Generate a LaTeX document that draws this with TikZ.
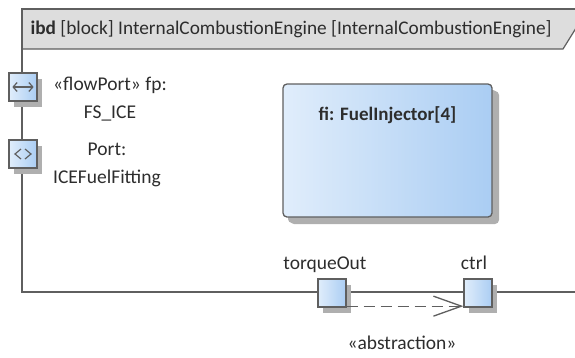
\documentclass[tikz,border=0pt]{standalone}
\usepackage{fontspec}
\setmainfont{Carlito}
\usetikzlibrary{arrows.meta,positioning,shadows,calc}
\definecolor{ibdline} {RGB}{ 95, 95, 95}
\definecolor{ibdhead} {RGB}{221,221,221}
\definecolor{ibdtext} {RGB}{ 45, 45, 45}
\definecolor{prtleft} {RGB}{224,237,251}
\definecolor{prtright}{RGB}{170,205,243}
\definecolor{ibdshade}{RGB}{175,175,175}
\tikzset{
  port/.style={draw=ibdline,line width=1.3pt,left color=prtleft,right color=prtright,
    minimum size=28pt,inner sep=0pt,
    drop shadow={shadow xshift=5pt,shadow yshift=-6pt,fill=ibdshade,opacity=1}},
  part/.style={port,rounded corners=4pt,minimum width=209pt,minimum height=133pt,
    drop shadow={shadow xshift=7pt,shadow yshift=-7pt,fill=ibdshade,opacity=1}},
  lbl/.style={font=\fontsize{19.5}{28}\selectfont,text=ibdtext,align=center},
  plbl/.style={lbl,text height=1.5ex,text depth=.5ex},
  frm/.style={draw=ibdline,line width=2.4pt},
  icon/.style={draw=ibdline,line width=1.2pt},
  dep/.style={draw=ibdline,line width=1.3pt,dash pattern=on 11pt off 6pt,
    -{Straight Barb[length=28pt,width=20pt,line width=1.3pt]}},
}
\begin{document}
\begin{tikzpicture}[x=1pt,y=-1pt]
  \useasboundingbox (0,0) rectangle (575,357);
  \clip (0,0) rectangle (575,357);
  % frame and header
  \fill[ibdhead] (22,9) -- (600,9) -- (600,-10) -- (586,12) -- (563,49) -- (22,49) -- cycle;
  \draw[ibdline,line width=1.2pt] (22,49) -- (563,49) -- (586,12);
  \draw[frm] (600,9) -- (22,9) -- (22,292) -- (600,292);
  \node[anchor=west,lbl,font=\fontsize{19.3}{22}\selectfont] (title) at (27,29)
    {\textbf{ibd} [block] InternalCombustionEngine [InternalCombustionEngine]};

  % boundary ports on the left
  \node[port] (fp) at (23,87) {};
  \draw[icon,{Straight Barb[length=4pt,width=9pt]}-{Straight Barb[length=4pt,width=9pt]}]
    ([xshift=4pt]fp.west) -- ([xshift=-4pt]fp.east);
  \node[lbl] (fplbl) at (110,99) {«flowPort» fp:\\FS\_ICE};
  \node[port] (ice) at (23,154) {};
  \draw[icon] ([xshift=-2pt,yshift=5pt]ice.center) -- ([xshift=-8pt]ice.center)
    -- ([xshift=-2pt,yshift=-5pt]ice.center);
  \draw[icon] ([xshift=2pt,yshift=5pt]ice.center) -- ([xshift=8pt]ice.center)
    -- ([xshift=2pt,yshift=-5pt]ice.center);
  \node[lbl] (icelbl) at (107,165) {Port:\\ICEFuelFitting};

  % part
  \node[part] (fi) at (387.5,150.5) {};
  \node[lbl,font=\fontsize{19}{22}\selectfont\bfseries,below=20pt of fi.north] (filbl) {fi: FuelInjector[4]};

  % ports on the bottom edge
  \node[port] (tq) at (332,293) {};
  \node[port] (ctrl) at (478,293) {};
  \node[plbl,above=3pt of tq,xshift=-7pt] (tqlbl) {torqueOut};
  \node[plbl,above=3pt of ctrl,xshift=-4pt] (ctrllbl) {ctrl};

  % dependency
  \draw[dep] ([yshift=1.5pt]tq.south east) -- ([yshift=1.5pt]ctrl.south west);
  \node[lbl] (abslbl) at (402,343) {«abstraction»};
\end{tikzpicture}
\end{document}
